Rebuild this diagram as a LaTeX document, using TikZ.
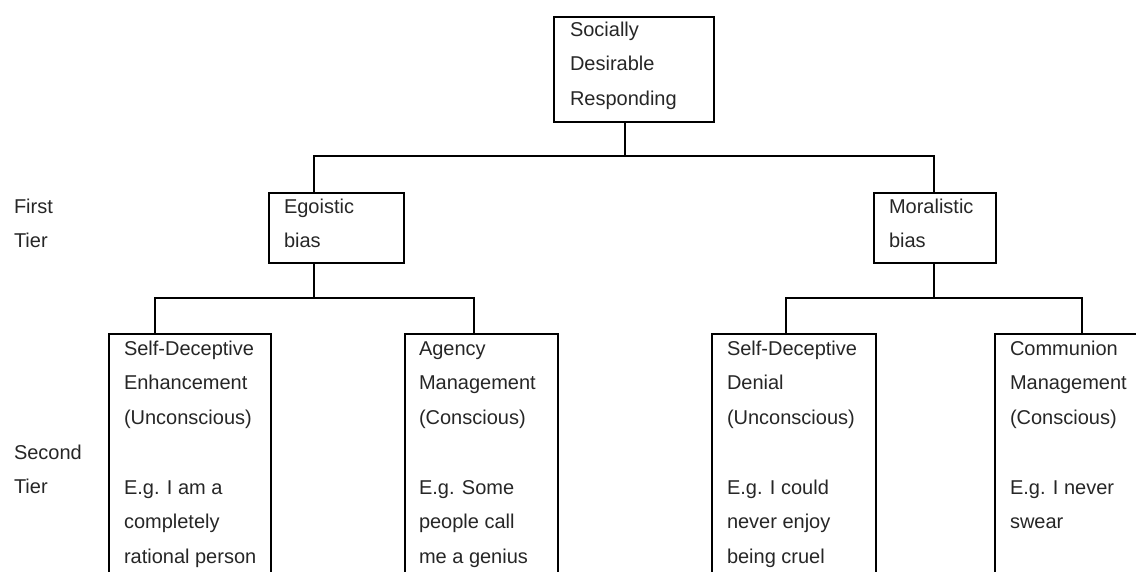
\documentclass[tikz,border=0pt]{standalone}
\usepackage{fontspec}
\setmainfont{Liberation Sans}
\begin{document}
\begin{tikzpicture}[x=1pt,y=-1pt,
  line width=2pt,
  box/.style={draw,rectangle,inner sep=0pt,anchor=north west},
  openbox/.style={rectangle,inner sep=0pt,anchor=north west},
  txt/.style={anchor=north west,inner sep=0pt,align=left,text=black!85,font=\fontsize{20}{34.75}\selectfont}]
\useasboundingbox (0,0) rectangle (1136,572);
% boxes
\node[box,minimum width=160pt,minimum height=105pt] (top) at (553,16) {};
\node[box,minimum width=135pt,minimum height=70pt] (ego) at (268,192) {};
\node[box,minimum width=122pt,minimum height=70pt] (mor) at (873,192) {};
\node[openbox,minimum width=160pt,minimum height=240pt] (sde) at (109,334) {};
\node[openbox,minimum width=151pt,minimum height=240pt] (agm) at (405,334) {};
\node[openbox,minimum width=162pt,minimum height=240pt] (sdd) at (712,334) {};
\node[openbox,minimum width=139.5pt,minimum height=240pt] (com) at (995,334) {};
\foreach \b in {sde,agm,sdd,com}
  \draw (\b.south west) |- (\b.north east) -- (\b.south east);
% texts
\node[txt] (ttop) at (569,10.7) {\strut Socially\\Desirable\\Responding};
\node[txt] (tego) at (283,187.7) {\strut Egoistic\\bias};
\node[txt] (tmor) at (888,187.7) {\strut Moralistic\\bias};
\node[txt] (tsde) at (123,329.7) {\strut Self-Deceptive\\Enhancement\\(Unconscious)\\\strut\\E.g. I am a\\completely\\rational person};
\node[txt] (tagm) at (418,329.7) {\strut Agency\\Management\\(Conscious)\\\strut\\E.g. Some\\people call\\me a genius};
\node[txt] (tsdd) at (726,329.7) {\strut Self-Deceptive\\Denial\\(Unconscious)\\\strut\\E.g. I could\\never enjoy\\being cruel};
\node[txt] (tcom) at (1009,329.7) {\strut Communion\\Management\\(Conscious)\\\strut\\E.g. I never\\swear};
\node[txt] (first) at (13,187.7) {\strut First\\Tier};
\node[txt] (second) at (13,433.7) {\strut Second\\Tier};
% connectors
\coordinate (j0) at (625,156);
\coordinate (a) at (314,156);
\coordinate (b) at (934,156);
\coordinate (j1) at (314,298);
\coordinate (j2) at (934,298);
\coordinate (c1) at (155,298);
\coordinate (c2) at (474,298);
\coordinate (c3) at (786,298);
\coordinate (c4) at (1082,298);
\draw (top.south -| j0) -- (j0);
\draw (ego.north -| a) -- (a) -- (b) -- (mor.north -| b);
\draw (ego.south -| j1) -- (j1);
\draw (mor.south -| j2) -- (j2);
\draw (sde.north -| c1) -- (c1) -- (c2) -- (agm.north -| c2);
\draw (sdd.north -| c3) -- (c3) -- (c4) -- (com.north -| c4);
\end{tikzpicture}
\end{document}
